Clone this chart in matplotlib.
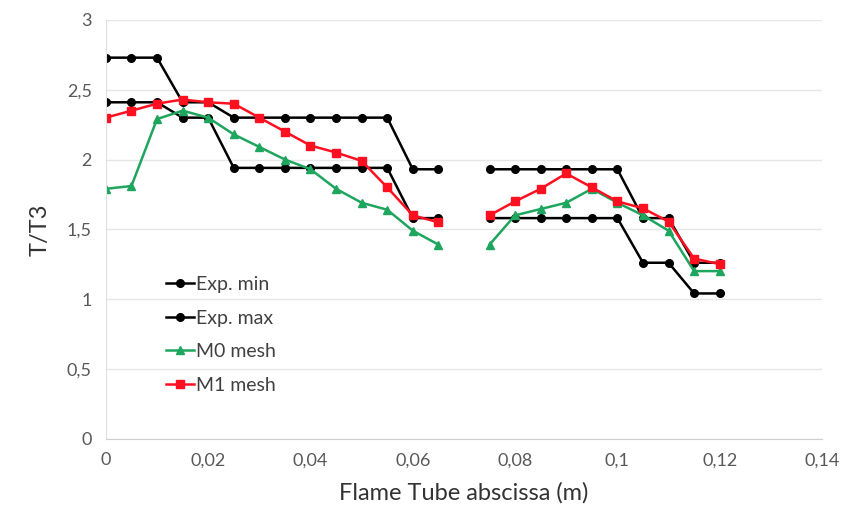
import numpy as np
import matplotlib
matplotlib.use("Agg")
import matplotlib.pyplot as plt
from matplotlib.ticker import FuncFormatter

plt.rcParams["font.family"] = ["Lato", "DejaVu Sans"]

nan = np.nan

# abscissa (m), gap at 0.07
x = [0, 0.005, 0.01, 0.015, 0.02, 0.025, 0.03, 0.035, 0.04, 0.045, 0.05, 0.055,
     0.06, 0.065, 0.07, 0.075, 0.08, 0.085, 0.09, 0.095, 0.1, 0.105, 0.11,
     0.115, 0.12]

exp_min = [2.41, 2.41, 2.41, 2.30, 2.30, 1.94, 1.94, 1.94, 1.94, 1.94, 1.94, 1.94,
           1.58, 1.58, nan, 1.58, 1.58, 1.58, 1.58, 1.58, 1.58, 1.26, 1.26,
           1.04, 1.04]
exp_max = [2.73, 2.73, 2.73, 2.41, 2.41, 2.30, 2.30, 2.30, 2.30, 2.30, 2.30, 2.30,
           1.93, 1.93, nan, 1.93, 1.93, 1.93, 1.93, 1.93, 1.93, 1.58, 1.58,
           1.26, 1.26]
m0 = [1.79, 1.81, 2.29, 2.35, 2.30, 2.18, 2.09, 2.00, 1.93, 1.79, 1.69, 1.64,
      1.49, 1.39, nan, 1.39, 1.60, 1.645, 1.69, 1.79, 1.69, 1.60, 1.49,
      1.20, 1.20]
m1 = [2.30, 2.35, 2.40, 2.43, 2.41, 2.40, 2.30, 2.20, 2.10, 2.05, 1.99, 1.80,
      1.60, 1.55, nan, 1.60, 1.70, 1.79, 1.90, 1.80, 1.70, 1.65, 1.555,
      1.29, 1.25]

fig = plt.figure(figsize=(8.47, 5.19), dpi=100)
ax = fig.add_axes([0.125, 0.155, 0.8455, 0.8065])

ax.plot(x, exp_min, color="black", marker="o", markersize=5.5, lw=1.8, label="Exp. min")
ax.plot(x, exp_max, color="black", marker="o", markersize=5.5, lw=1.8, label="Exp. max")
ax.plot(x, m0, color="#1ea55e", marker="^", markersize=6, lw=1.8, label="M0 mesh")
ax.plot(x, m1, color="#ff1020", marker="s", markersize=6, lw=1.8, label="M1 mesh")

ax.set_xlim(0, 0.14)
ax.set_ylim(0, 3)
ax.set_xticks(np.arange(0, 0.1401, 0.02))
ax.set_yticks(np.arange(0, 3.01, 0.5))

def comma(v, pos):
    s = ("%.2f" % v).rstrip("0").rstrip(".")
    return s.replace(".", ",")

ax.xaxis.set_major_formatter(FuncFormatter(comma))
ax.yaxis.set_major_formatter(FuncFormatter(comma))
ax.tick_params(length=0, labelsize=13, labelcolor="#595959", pad=10)

ax.grid(axis="y", color="#e6e6e6", lw=1)
ax.set_axisbelow(True)
for s in ["top", "right"]:
    ax.spines[s].set_visible(False)
ax.spines["left"].set_color("#e0e0e0")
ax.spines["bottom"].set_color("#d0d0d0")

ax.set_xlabel("Flame Tube abscissa (m)", fontsize=17, color="#333333", labelpad=10)
ax.set_ylabel("T/T3", fontsize=17, color="#333333", labelpad=12)

ax.legend(loc="upper left", bbox_to_anchor=(0.06, 0.43), frameon=False,
          fontsize=14, handlelength=1.4, handletextpad=0.15, labelspacing=0.85,
          labelcolor="#404040")

fig.savefig("out.png", dpi=100)
